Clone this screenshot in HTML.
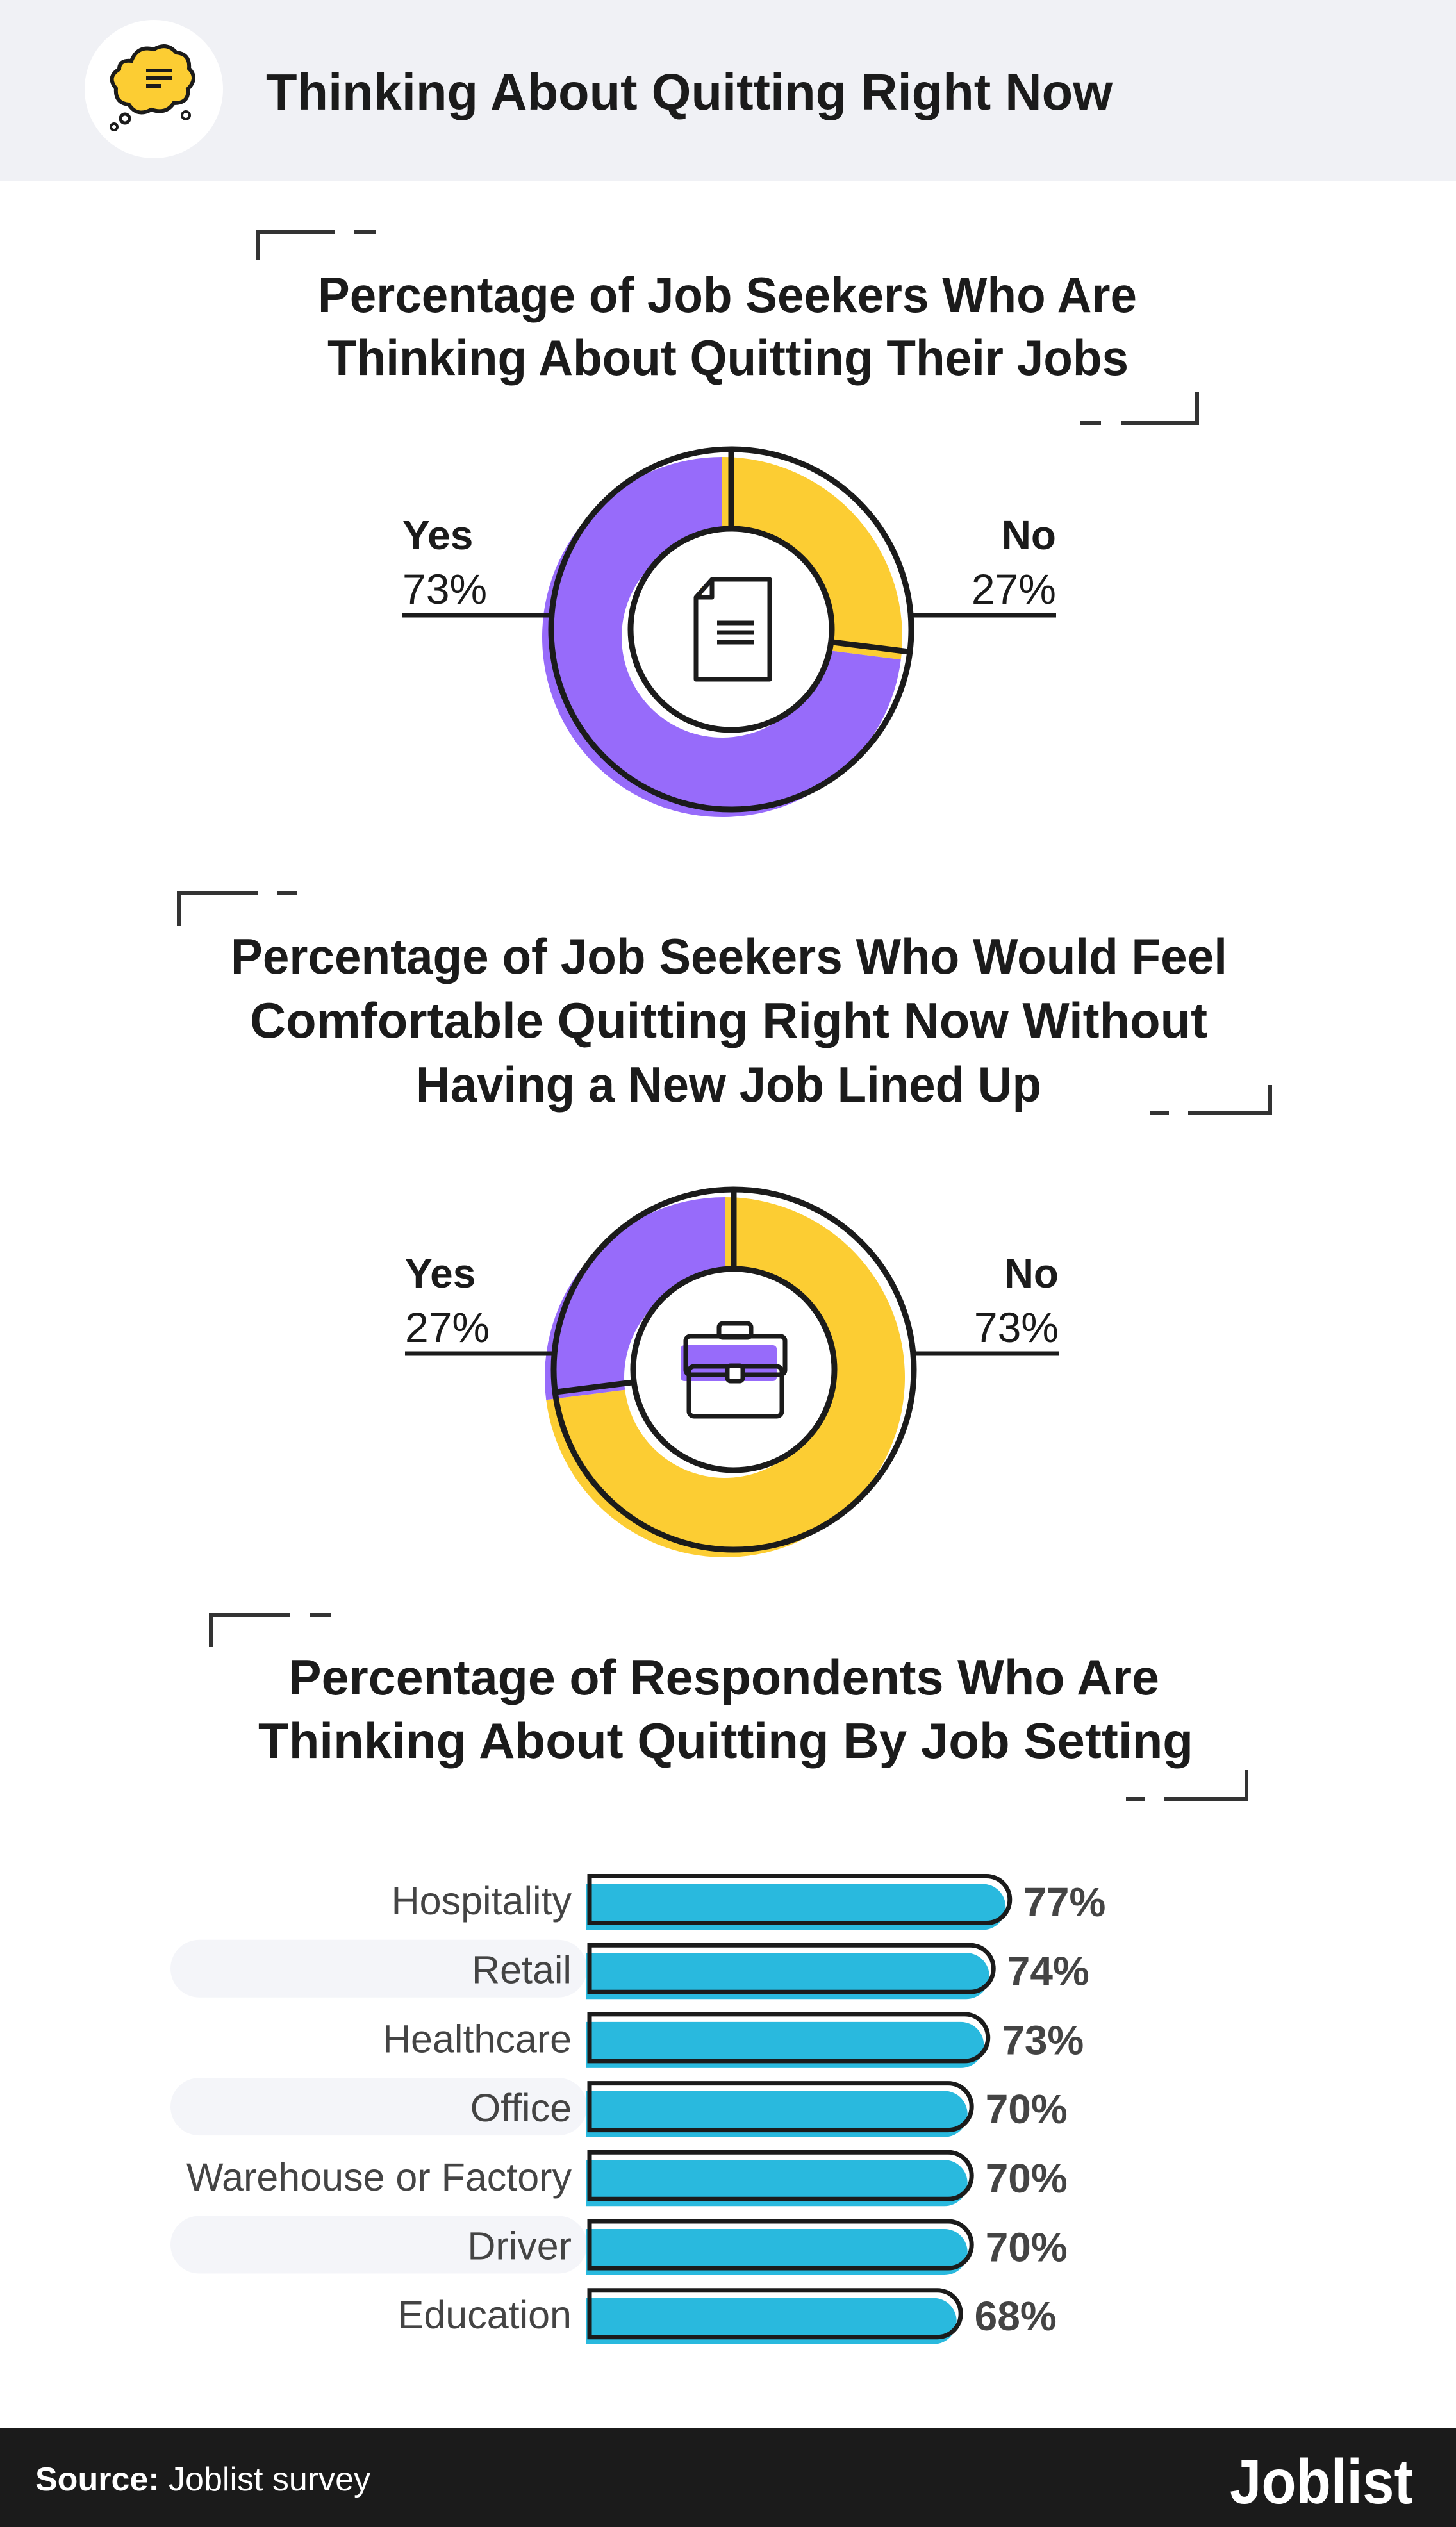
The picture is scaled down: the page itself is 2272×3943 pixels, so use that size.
<!DOCTYPE html>
<html><head><meta charset="utf-8"><style>
html,body{margin:0;padding:0;background:#fff}
svg{display:block}
text{font-family:"Liberation Sans",sans-serif}
</style></head><body>
<svg id="root" width="2272" height="3943" viewBox="0 0 2272 3943" xmlns="http://www.w3.org/2000/svg">
<rect x="0" y="0" width="2272" height="282" fill="#f0f1f5"/>
<g>
<ellipse cx="240" cy="139" rx="108" ry="108" fill="#fff"/>
<path d="M205 95 q10-25 35-18 q20-12 35 5 q22 2 20 25 q15 15-2 32 q3 22-22 22 q-12 18-35 10 q-22 12-35-8 q-22-2-20-25 q-15-18 5-30 q0-15 19-13z" fill="#fccd33" stroke="#1b1b1b" stroke-width="6"/>
<line x1="228" y1="110" x2="268" y2="110" stroke="#1b1b1b" stroke-width="6"/>
<line x1="228" y1="122" x2="268" y2="122" stroke="#1b1b1b" stroke-width="6"/>
<line x1="228" y1="134" x2="252" y2="134" stroke="#1b1b1b" stroke-width="6"/>
<circle cx="195" cy="185" r="7" fill="none" stroke="#1b1b1b" stroke-width="5"/>
<circle cx="178" cy="198" r="5" fill="none" stroke="#1b1b1b" stroke-width="4"/>
<circle cx="290" cy="180" r="6" fill="none" stroke="#1b1b1b" stroke-width="4"/>
</g>
<text x="415" y="171" font-size="80" font-weight="bold" fill="#1b1b1b" textLength="1321" lengthAdjust="spacingAndGlyphs">Thinking About Quitting Right Now</text>

<g fill="none" stroke="#333" stroke-width="6">
<path d="M403 405 V362 H523 M553 362 H586"/>
<path d="M1686 660 H1718 M1749 660 H1868 V612"/>
<path d="M279 1445 V1393 H403 M433 1393 H463"/>
<path d="M1794 1737 H1824 M1854 1737 H1982 V1693"/>
<path d="M329 2570 V2520 H453 M483 2520 H516"/>
<path d="M1757 2807 H1787 M1817 2807 H1945 V2762"/>
</g>

<g font-weight="bold" font-size="78" fill="#1b1b1b">
<text x="496" y="487" textLength="1278" lengthAdjust="spacingAndGlyphs">Percentage of Job Seekers Who Are</text>
<text x="511" y="585" textLength="1250" lengthAdjust="spacingAndGlyphs">Thinking About Quitting Their Jobs</text>
<text x="360" y="1519" textLength="1555" lengthAdjust="spacingAndGlyphs">Percentage of Job Seekers Who Would Feel</text>
<text x="390" y="1619" textLength="1494" lengthAdjust="spacingAndGlyphs">Comfortable Quitting Right Now Without</text>
<text x="649" y="1719" textLength="976" lengthAdjust="spacingAndGlyphs">Having a New Job Lined Up</text>
<text x="450" y="2644" textLength="1359" lengthAdjust="spacingAndGlyphs">Percentage of Respondents Who Are</text>
<text x="403" y="2743" textLength="1459" lengthAdjust="spacingAndGlyphs">Thinking About Quitting By Job Setting</text>
</g>

<g id="donuts"></g>
<g id="bars"></g>

<rect x="0" y="3788" width="2272" height="155" fill="#1b1b1b"/>
<text x="55" y="3886" font-size="52" fill="#fff"><tspan font-weight="bold">Source:</tspan> Joblist survey</text>
<text x="1919" y="3906" font-size="98" font-weight="bold" fill="#fff" textLength="286" lengthAdjust="spacingAndGlyphs">Joblist</text>
</svg>
<script>
const NS='http://www.w3.org/2000/svg';
// Donut data
const donut1Labels=['Yes','No'];
const donut1Values=[73,27];
const donut2Labels=['Yes','No'];
const donut2Values=[27,73];
// Bar data
const barCategories=['Hospitality','Retail','Healthcare','Office','Warehouse or Factory','Driver','Education'];
const barValues=[77,74,73,70,70,70,68];

function mk(tag,attrs,parent){const e=document.createElementNS(NS,tag);for(const k in attrs)e.setAttribute(k,attrs[k]);parent.appendChild(e);return e;}
function pt(cx,cy,r,a){const t=(a-90)*Math.PI/180;return [cx+r*Math.cos(t),cy+r*Math.sin(t)];}
function arc(cx,cy,r0,r1,a0,a1){
  const L=(a1-a0)>180?1:0;
  const p1=pt(cx,cy,r1,a0),p2=pt(cx,cy,r1,a1),p3=pt(cx,cy,r0,a1),p4=pt(cx,cy,r0,a0);
  return `M${p1} A${r1} ${r1} 0 ${L} 1 ${p2} L${p3} A${r0} ${r0} 0 ${L} 0 ${p4}Z`;
}
const purple='#976bfa',yellow='#fccd33',ink='#1b1b1b';
const donutsG=document.getElementById('donuts');

function drawDonut(cx,cy,labels,values,icon,name,lineY){
  const g=mk('g',{},donutsG);
  
  
  const R=281,r=157,total=values[0]+values[1];
  let parts;
  if(name==='donut-chart-2'){
    const yesDeg=values[0]/total*360;
    parts=[{a0:0,a1:360-yesDeg,c:yellow,n:'no'},{a0:360-yesDeg,a1:360,c:purple,n:'yes'}];
  } else {
    const noDeg=values[1]/total*360;
    parts=[{a0:0,a1:noDeg,c:yellow,n:'no'},{a0:noDeg,a1:360,c:purple,n:'yes'}];
  }
  parts.forEach(s=>{
    const p=mk('path',{d:arc(cx-14,cy+12,r,R,s.a0,s.a1),fill:s.c},g);
    
    
  });
  mk('circle',{cx:cx,cy:cy,r:R,fill:'none',stroke:ink,'stroke-width':9},g);
  mk('circle',{cx:cx,cy:cy,r:r,fill:'#fff',stroke:ink,'stroke-width':9},g);
  parts.forEach(s=>{
    const a=pt(cx,cy,r,s.a0),b=pt(cx,cy,R,s.a0);
    mk('line',{x1:a[0],y1:a[1],x2:b[0],y2:b[1],stroke:ink,'stroke-width':9},g);
  });
  mk('line',{x1:cx-R-232,y1:lineY,x2:cx-R,y2:lineY,stroke:ink,'stroke-width':7},g);
  mk('line',{x1:cx+R,y1:lineY,x2:cx+R+226,y2:lineY,stroke:ink,'stroke-width':7},g);
  const ly=mk('text',{x:cx-R-232,y:lineY-103,'font-size':64,'font-weight':'bold',fill:ink},g);ly.textContent=labels[0];
  
  const vy=mk('text',{x:cx-R-232,y:lineY-18,'font-size':66,fill:ink},g);vy.textContent=values[0]+'%';
  
  const ln=mk('text',{x:cx+R+226,y:lineY-103,'font-size':64,'font-weight':'bold',fill:ink,'text-anchor':'end'},g);ln.textContent=labels[1];
  
  const vn=mk('text',{x:cx+R+226,y:lineY-18,'font-size':66,fill:ink,'text-anchor':'end'},g);vn.textContent=values[1]+'%';
  
  icon(g,cx,cy);
}
function docIcon(g,cx,cy){
  const ig=mk('g',{},g);
  
  mk('path',{d:`M${cx-57} ${cy-50} l12-18 v18z`,fill:yellow},ig);
  mk('path',{d:`M${cx-30} ${cy-78} H${cx+60} V${cy+78} H${cx-55} V${cy-50} Z M${cx-55} ${cy-50} H${cx-30} V${cy-78}`,fill:'none',stroke:ink,'stroke-width':7,'stroke-linejoin':'round'},ig);
  [-10,5,20].forEach(d=>mk('line',{x1:cx-22,y1:cy+d,x2:cx+35,y2:cy+d,stroke:ink,'stroke-width':7},ig));
}
function caseIcon(g,cx,cy){
  const ig=mk('g',{},g);
  
  mk('rect',{x:cx-83,y:cy-38,width:150,height:56,rx:6,fill:purple},ig);
  mk('rect',{x:cx-23,y:cy-72,width:50,height:22,rx:6,fill:'none',stroke:ink,'stroke-width':7},ig);
  mk('rect',{x:cx-70,y:cy-5,width:145,height:78,rx:8,fill:'none',stroke:ink,'stroke-width':7},ig);
  mk('rect',{x:cx-75,y:cy-52,width:155,height:60,rx:7,fill:'none',stroke:ink,'stroke-width':7},ig);
  mk('rect',{x:cx-10,y:cy-6,width:24,height:24,rx:5,fill:'#fff',stroke:ink,'stroke-width':7},ig);
}
drawDonut(1141,982,donut1Labels,donut1Values,docIcon,'donut-chart-1',960);
drawDonut(1145,2137,donut2Labels,donut2Values,caseIcon,'donut-chart-2',2112);

// Bars
const barsG=document.getElementById('bars');


const x0=920,pxPer=8.51,y0=2964,step=107.7,h=73;
const xs=v=>x0+v*pxPer, ys=i=>y0+i*step;
barCategories.forEach((c,i)=>{
  const cy=ys(i),w=xs(barValues[i])-x0;
  if(i%2===1){
    const bg=mk('rect',{x:266,y:cy-45,width:650,height:90,rx:45,fill:'#f4f5f9'},barsG);
    
  }
  const f=mk('path',{d:`M${x0-6} ${cy-h/2+12} H${x0-6+w-36} a36 36 0 0 1 0 72 H${x0-6}Z`,fill:'#29b9de'},barsG);
  
  
  mk('path',{d:`M${x0} ${cy-h/2} H${x0+w-36} a36 36 0 0 1 0 ${h} H${x0}Z`,fill:'none',stroke:ink,'stroke-width':7},barsG);
  const lt=mk('text',{x:892,y:cy+23,'font-size':61,fill:'#444','text-anchor':'end'},barsG);
  lt.textContent=c;
  
  const vt=mk('text',{x:x0+w+22,y:cy+26,'font-size':64,'font-weight':'bold',fill:'#444'},barsG);
  vt.textContent=barValues[i]+'%';
  
});
</script>
</body></html>
